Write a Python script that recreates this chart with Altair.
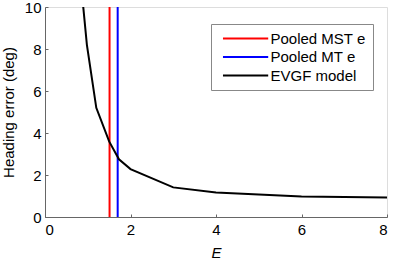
import altair as alt
import pandas as pd

# EVGF model curve
E_vals = [0.8, 0.98, 1.2, 1.5, 1.73, 2.0, 3.0, 4.0, 6.0, 8.0]
err_vals = [12.0, 8.2, 5.2, 3.6, 2.75, 2.28, 1.41, 1.17, 0.98, 0.93]
# pooled e vertical lines
vline_names = ["Pooled MST e", "Pooled MT e"]
vline_E = [1.51, 1.70]
series = ["Pooled MST e", "Pooled MT e", "EVGF model"]
colors = ["#FF0000", "#0000FF", "#000000"]
x_ticks = [0, 2, 4, 6, 8]
y_ticks = [0, 2, 4, 6, 8, 10]

W, H = 342, 210
FONT = "Liberation Sans"
AXC = "#666666"

curve = pd.DataFrame({"E": E_vals, "err": err_vals, "series": "EVGF model"})
vlines = pd.DataFrame({"E": vline_E, "series": vline_names})

xscale = alt.Scale(domain=[0, 8], nice=False)
yscale = alt.Scale(domain=[0, 10], nice=False)

legend = alt.Legend(
    title=None, orient="none", legendX=166, legendY=17, direction="vertical",
    symbolType="M-0.36,0H6.1", symbolSize=196, symbolStrokeWidth=2,
    labelFont=FONT, labelFontSize=15, labelColor="#000000", labelOffset=37,
    labelExpr="datum.label + '   '",
    padding=6.5, rowPadding=2.5, strokeColor="#888888", fillColor="#FFFFFF",
    cornerRadius=0, symbolFillColor="transparent",
)
color = alt.Color("series:N", scale=alt.Scale(domain=series, range=colors), legend=legend)

x_main = alt.Axis(values=x_ticks, ticks=False, tickSize=0, domainColor=AXC, grid=False,
                  labelFont=FONT, labelFontSize=15, labelColor="#000000", labelPadding=5,
                  title="E", titleFont=FONT, titleFontSize=15, titleFontStyle="italic",
                  titleFontWeight="normal", titleColor="#000000", titlePadding=8)
y_main = alt.Axis(values=y_ticks, ticks=False, tickSize=0, domainColor=AXC, grid=False,
                  labelFont=FONT, labelFontSize=15, labelColor="#000000", labelPadding=4,
                  title="Heading error (deg)", titleFont=FONT, titleFontSize=15,
                  titleFontWeight="normal", titleColor="#000000", titlePadding=8)
# inward ticks: axes on the opposite side shifted onto the plot edge
x_ticks_axis = alt.Axis(orient="top", offset=-H, values=x_ticks, labels=False, domain=False,
                        ticks=True, tickSize=3, tickColor=AXC, grid=False, title=None)
y_ticks_axis = alt.Axis(orient="right", offset=-W, values=y_ticks, labels=False, domain=False,
                        ticks=True, tickSize=3, tickColor=AXC, grid=False, title=None)

curve_layer = alt.Chart(curve).mark_line(strokeWidth=2, clip=True).encode(
    x=alt.X("E:Q", scale=xscale, axis=x_main),
    y=alt.Y("err:Q", scale=yscale, axis=y_main),
    color=color,
)

rule_layer = alt.Chart(vlines).mark_rule(strokeWidth=2).encode(
    x=alt.X("E:Q", scale=xscale, axis=x_ticks_axis),
    y=alt.Y(datum=0, scale=yscale, axis=y_ticks_axis),
    y2=alt.Y2(datum=10),
    color=color,
)

chart = alt.layer(rule_layer, curve_layer).resolve_axis(
    x="independent", y="independent"
).properties(
    width=W, height=H,
    autosize=alt.AutoSizeParams(type="none"),
    padding={"left": 45, "top": 7, "right": 6, "bottom": 45},
    background="white",
).configure_view(stroke=None).configure(font=FONT)

chart.save("out.html", embed_options={"renderer": "svg", "actions": False})
